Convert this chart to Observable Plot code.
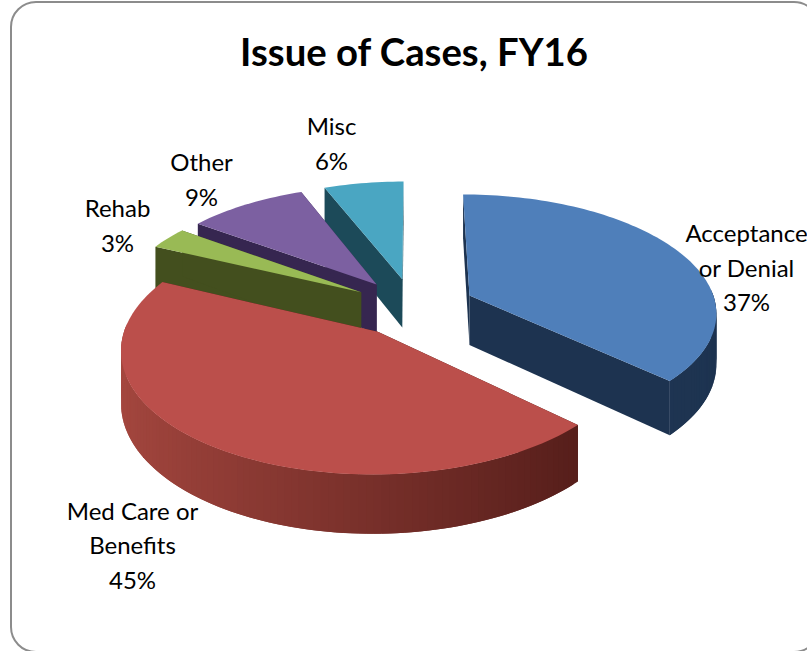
<!DOCTYPE html>
<html><head><meta charset="utf-8">
<script src="https://cdn.jsdelivr.net/npm/d3@7"></script>
<script src="https://cdn.jsdelivr.net/npm/@observablehq/plot@0.6"></script>
<style>
html,body{margin:0;padding:0;background:#fff;overflow:hidden}
#wrap{position:relative;width:807px;height:651px;overflow:hidden}
#frame{position:absolute;left:10px;top:1px;width:810px;height:652px;border:2px solid #8c8c8c;border-radius:26px;box-sizing:border-box}
#chart{position:absolute;left:0;top:0}
svg{background:transparent!important;display:block}
</style></head><body>
<div id="wrap"><div id="frame"></div><div id="chart"></div></div>
<script>
const title = "Issue of Cases, FY16";
const categories = ["Acceptance or Denial","Med Care or Benefits","Rehab","Other","Misc"];
const percents = [37,45,3,9,6];
const labelLines = ["Acceptance\nor Denial\n37%","Med Care or\nBenefits\n45%","Rehab\n3%","Other\n9%","Misc\n6%"];

// appearance
const topColors  = ["#4f7fba","#bb4f4b","#99ba55","#7c60a1","#4aa6c2"];
const sideLight  = ["#243c5c","#a5473f","#4a5a22","#3f2e58","#215566"];
const sideDark   = ["#1d3350","#4a1815","#434f1e","#362650","#1c4a59"];
const labelX = [746,132,117,201,331];
const labelY = [265,542.5,223,177,141];

// pie geometry (tilted disc with perspective)
const cx=413, cy=306.5, rx=247, ry=117, persp=0.13, thick=50, explode=0.25;
const rad = d=>d*Math.PI/180;
function project(X,Y,Z){const s=1/(1+persp*Y);return [cx+rx*X*s, cy-ry*Y*s+thick*Z*s];}

const angles=[]; let acc=0;
percents.forEach((p,i)=>{angles.push([acc*3.6,(acc+p)*3.6]);acc+=p;});

const polys=[];
function addPoly(id,fill,pts){pts.forEach(([x,y])=>polys.push({id,fill,x,y}));}

// painter's order: back slices first, the big front slice last
[4,3,2,0,1].forEach(i=>{
  const [a0,a1]=angles[i], mid=rad((a0+a1)/2);
  const ox=explode*Math.sin(mid), oy=explode*Math.cos(mid);
  const P=(a,z,r=1)=>project(ox+r*Math.sin(rad(a)),oy+r*Math.cos(rad(a)),z);
  const n=Math.max(6,Math.ceil((a1-a0)/1.5));
  const as=d3.range(n+1).map(j=>a0+(a1-a0)*j/n);
  // radial cut faces
  addPoly(`cutA${i}`,sideDark[i],[P(a0,0,0),P(a0,0),P(a0,1),P(a0,1,0)]);
  addPoly(`cutB${i}`,sideDark[i],[P(a1,0,0),P(a1,0),P(a1,1),P(a1,1,0)]);
  // rim strips (only those facing the viewer), each overlapping the next to hide seams
  for(let j=0;j<n;j++){
    const m=rad((as[j]+as[j+1])/2);
    if(Math.cos(m)>0.05) continue;
    const t=(Math.sin(m)+1)/2;
    const e=as[Math.min(j+2,n)];
    addPoly(`rim${i}-${j}`,d3.interpolateRgb(sideLight[i],sideDark[i])(t),
      [P(as[j],0),P(e,0),P(e,1),P(as[j],1)]);
  }
  // top surface
  addPoly(`top${i}`,topColors[i],[P(a0,0,0),...as.map(a=>P(a,0))]);
});

const labels=categories.map((c,i)=>({c,text:labelLines[i],x:labelX[i],y:labelY[i]}));

const plot=Plot.plot({
  width:807,height:651,margin:0,
  x:{domain:[0,807],range:[0,807],axis:null},
  y:{domain:[0,651],range:[0,651],axis:null},
  color:{type:"identity"},
  style:{background:"transparent"},
  marks:[
    Plot.line(polys,{x:"x",y:"y",z:"id",fill:"fill",stroke:"none",curve:"linear-closed"}),
    Plot.text(labels,{x:"x",y:"y",text:"text",fontSize:24,lineHeight:1.44,lineAnchor:"middle",textAnchor:"middle",fill:"#000",fontFamily:"Lato, sans-serif"}),
    Plot.text([title],{x:()=>413.5,y:()=>53,text:d=>d,fontSize:38.3,fontWeight:"bold",fill:"#000",fontFamily:"Lato, sans-serif"})
  ]
});
document.getElementById("chart").append(plot);
</script>
</body></html>
